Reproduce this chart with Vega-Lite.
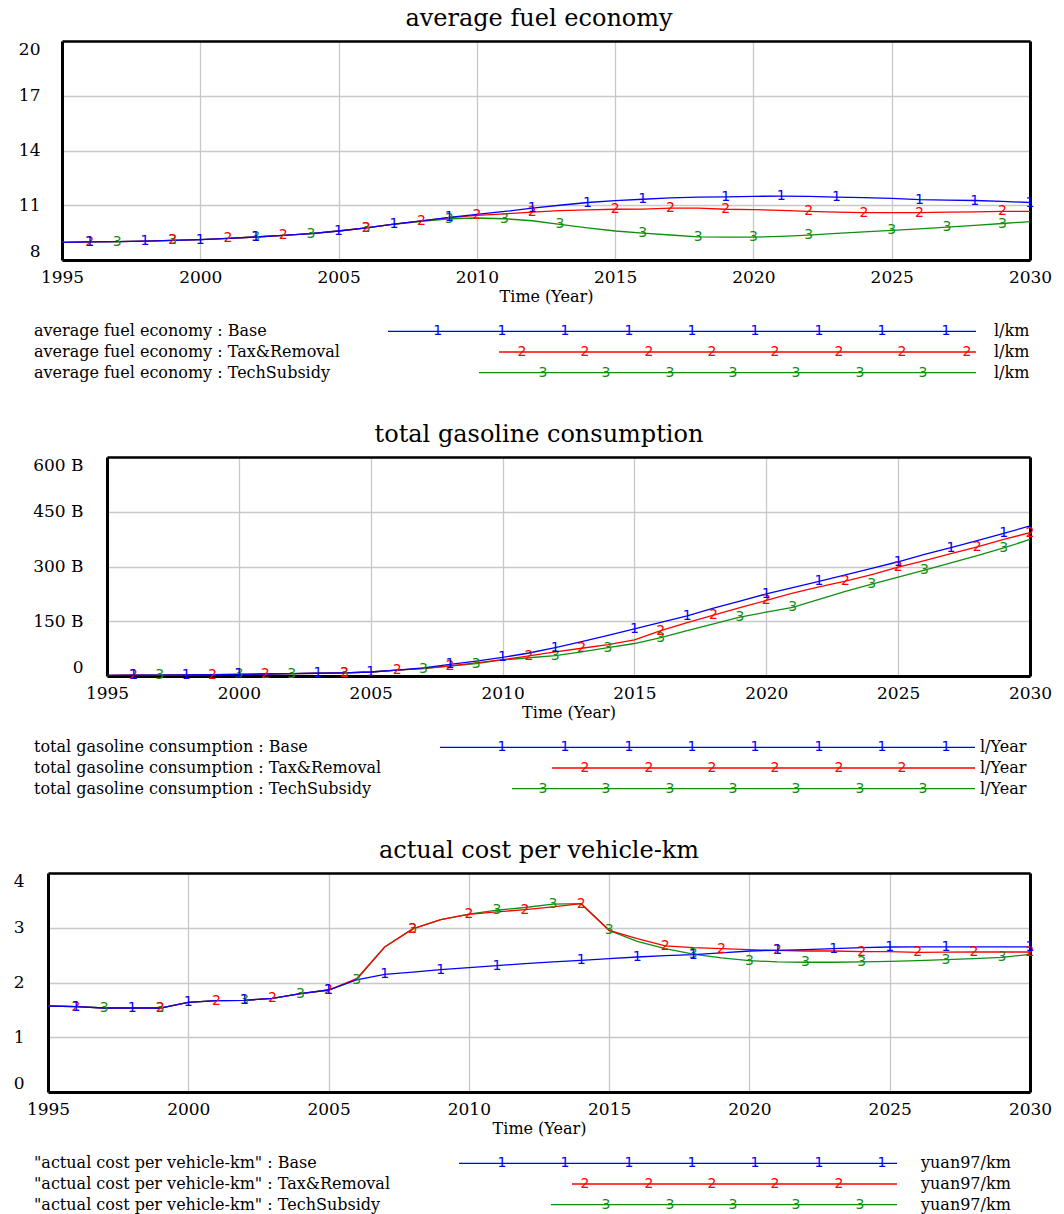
{
  "$schema": "https://vega.github.io/schema/vega-lite/v6.json",
  "background": "white",
  "padding": {"left": 13, "top": 7, "right": 5, "bottom": 5},
  "spacing": 40,
  "config": {
    "view": {"stroke": null},
    "font": "DejaVu Serif",
    "axis": {"labelFont": "DejaVu Serif", "labelFontSize": 17, "labelColor": "black", "titleFont": "DejaVu Serif", "titleFontSize": 16, "titleFontWeight": "normal", "titleColor": "black", "ticks": false, "tickSize": 0, "gridColor": "#c8c8c8", "gridWidth": 1.3, "gridOpacity": 1, "domainColor": "black", "domainWidth": 3},
    "title": {"font": "DejaVu Serif", "fontSize": 24, "fontWeight": "normal", "color": "black", "anchor": "middle", "frame": "group", "baseline": "alphabetic", "offset": 9}
  },
  "datasets": {
    "fuel": [
      {"s":"TechSubsidy","t":1995,"v":8.97},{"s":"TechSubsidy","t":1996,"v":8.99},{"s":"TechSubsidy","t":1997,"v":9.01,"k":"3"},{"s":"TechSubsidy","t":1998,"v":9.03},{"s":"TechSubsidy","t":1999,"v":9.07,"k":"3"},{"s":"TechSubsidy","t":2000,"v":9.12},{"s":"TechSubsidy","t":2001,"v":9.19},{"s":"TechSubsidy","t":2002,"v":9.26,"k":"3"},{"s":"TechSubsidy","t":2003,"v":9.35},{"s":"TechSubsidy","t":2004,"v":9.45,"k":"3"},{"s":"TechSubsidy","t":2005,"v":9.59},{"s":"TechSubsidy","t":2006,"v":9.76,"k":"3"},{"s":"TechSubsidy","t":2007,"v":9.96},{"s":"TechSubsidy","t":2008,"v":10.12},{"s":"TechSubsidy","t":2009,"v":10.26,"k":"3"},{"s":"TechSubsidy","t":2010,"v":10.30},{"s":"TechSubsidy","t":2011,"v":10.26,"k":"3"},{"s":"TechSubsidy","t":2012,"v":10.15},{"s":"TechSubsidy","t":2013,"v":9.95,"k":"3"},{"s":"TechSubsidy","t":2014,"v":9.76},{"s":"TechSubsidy","t":2015,"v":9.59},{"s":"TechSubsidy","t":2016,"v":9.47,"k":"3"},{"s":"TechSubsidy","t":2017,"v":9.37},{"s":"TechSubsidy","t":2018,"v":9.27,"k":"3"},{"s":"TechSubsidy","t":2019,"v":9.25},{"s":"TechSubsidy","t":2020,"v":9.25,"k":"3"},{"s":"TechSubsidy","t":2021,"v":9.29},{"s":"TechSubsidy","t":2022,"v":9.36,"k":"3"},{"s":"TechSubsidy","t":2023,"v":9.46},{"s":"TechSubsidy","t":2024,"v":9.54},{"s":"TechSubsidy","t":2025,"v":9.62,"k":"3"},{"s":"TechSubsidy","t":2026,"v":9.70},{"s":"TechSubsidy","t":2027,"v":9.80,"k":"3"},{"s":"TechSubsidy","t":2028,"v":9.90},{"s":"TechSubsidy","t":2029,"v":10.00,"k":"3"},{"s":"TechSubsidy","t":2030,"v":10.10},
      {"s":"Tax&Removal","t":1995,"v":8.97},{"s":"Tax&Removal","t":1996,"v":8.99,"k":"2"},{"s":"Tax&Removal","t":1997,"v":9.01},{"s":"Tax&Removal","t":1998,"v":9.03},{"s":"Tax&Removal","t":1999,"v":9.07,"k":"2"},{"s":"Tax&Removal","t":2000,"v":9.12},{"s":"Tax&Removal","t":2001,"v":9.19,"k":"2"},{"s":"Tax&Removal","t":2002,"v":9.26},{"s":"Tax&Removal","t":2003,"v":9.35,"k":"2"},{"s":"Tax&Removal","t":2004,"v":9.45},{"s":"Tax&Removal","t":2005,"v":9.59},{"s":"Tax&Removal","t":2006,"v":9.76,"k":"2"},{"s":"Tax&Removal","t":2007,"v":9.96},{"s":"Tax&Removal","t":2008,"v":10.14,"k":"2"},{"s":"Tax&Removal","t":2009,"v":10.32},{"s":"Tax&Removal","t":2010,"v":10.45,"k":"2"},{"s":"Tax&Removal","t":2011,"v":10.53},{"s":"Tax&Removal","t":2012,"v":10.62,"k":"2"},{"s":"Tax&Removal","t":2013,"v":10.70},{"s":"Tax&Removal","t":2014,"v":10.75},{"s":"Tax&Removal","t":2015,"v":10.78,"k":"2"},{"s":"Tax&Removal","t":2016,"v":10.79},{"s":"Tax&Removal","t":2017,"v":10.84,"k":"2"},{"s":"Tax&Removal","t":2018,"v":10.84},{"s":"Tax&Removal","t":2019,"v":10.78,"k":"2"},{"s":"Tax&Removal","t":2020,"v":10.76},{"s":"Tax&Removal","t":2021,"v":10.72},{"s":"Tax&Removal","t":2022,"v":10.66,"k":"2"},{"s":"Tax&Removal","t":2023,"v":10.62},{"s":"Tax&Removal","t":2024,"v":10.60,"k":"2"},{"s":"Tax&Removal","t":2025,"v":10.60},{"s":"Tax&Removal","t":2026,"v":10.60,"k":"2"},{"s":"Tax&Removal","t":2027,"v":10.62},{"s":"Tax&Removal","t":2028,"v":10.64},{"s":"Tax&Removal","t":2029,"v":10.66,"k":"2"},{"s":"Tax&Removal","t":2030,"v":10.66},
      {"s":"Base","t":1995,"v":8.97},{"s":"Base","t":1996,"v":8.99,"k":"1"},{"s":"Base","t":1997,"v":9.01},{"s":"Base","t":1998,"v":9.03,"k":"1"},{"s":"Base","t":1999,"v":9.07},{"s":"Base","t":2000,"v":9.12,"k":"1"},{"s":"Base","t":2001,"v":9.19},{"s":"Base","t":2002,"v":9.26,"k":"1"},{"s":"Base","t":2003,"v":9.35},{"s":"Base","t":2004,"v":9.45},{"s":"Base","t":2005,"v":9.59,"k":"1"},{"s":"Base","t":2006,"v":9.76},{"s":"Base","t":2007,"v":9.96,"k":"1"},{"s":"Base","t":2008,"v":10.14},{"s":"Base","t":2009,"v":10.34,"k":"1"},{"s":"Base","t":2010,"v":10.50},{"s":"Base","t":2011,"v":10.66},{"s":"Base","t":2012,"v":10.84,"k":"1"},{"s":"Base","t":2013,"v":11.00},{"s":"Base","t":2014,"v":11.15,"k":"1"},{"s":"Base","t":2015,"v":11.25},{"s":"Base","t":2016,"v":11.33,"k":"1"},{"s":"Base","t":2017,"v":11.40},{"s":"Base","t":2018,"v":11.44},{"s":"Base","t":2019,"v":11.46,"k":"1"},{"s":"Base","t":2020,"v":11.49},{"s":"Base","t":2021,"v":11.50,"k":"1"},{"s":"Base","t":2022,"v":11.49},{"s":"Base","t":2023,"v":11.45,"k":"1"},{"s":"Base","t":2024,"v":11.42},{"s":"Base","t":2025,"v":11.38},{"s":"Base","t":2026,"v":11.31,"k":"1"},{"s":"Base","t":2027,"v":11.28},{"s":"Base","t":2028,"v":11.26,"k":"1"},{"s":"Base","t":2029,"v":11.21},{"s":"Base","t":2030,"v":11.15,"k":"1"}
    ],
    "gas": [
      {"s":"TechSubsidy","t":1995,"v":1.5},{"s":"TechSubsidy","t":1996,"v":2},{"s":"TechSubsidy","t":1997,"v":2.5,"k":"3"},{"s":"TechSubsidy","t":1998,"v":3},{"s":"TechSubsidy","t":1999,"v":3.5},{"s":"TechSubsidy","t":2000,"v":4.5,"k":"3"},{"s":"TechSubsidy","t":2001,"v":5.5},{"s":"TechSubsidy","t":2002,"v":6.5,"k":"3"},{"s":"TechSubsidy","t":2003,"v":7.5},{"s":"TechSubsidy","t":2004,"v":8.5,"k":"3"},{"s":"TechSubsidy","t":2005,"v":11},{"s":"TechSubsidy","t":2006,"v":16},{"s":"TechSubsidy","t":2007,"v":20,"k":"3"},{"s":"TechSubsidy","t":2008,"v":27},{"s":"TechSubsidy","t":2009,"v":34,"k":"3"},{"s":"TechSubsidy","t":2010,"v":44},{"s":"TechSubsidy","t":2011,"v":50},{"s":"TechSubsidy","t":2012,"v":56,"k":"3"},{"s":"TechSubsidy","t":2013,"v":66},{"s":"TechSubsidy","t":2014,"v":78,"k":"3"},{"s":"TechSubsidy","t":2015,"v":89},{"s":"TechSubsidy","t":2016,"v":105,"k":"3"},{"s":"TechSubsidy","t":2017,"v":124},{"s":"TechSubsidy","t":2018,"v":143},{"s":"TechSubsidy","t":2019,"v":161,"k":"3"},{"s":"TechSubsidy","t":2020,"v":175},{"s":"TechSubsidy","t":2021,"v":188,"k":"3"},{"s":"TechSubsidy","t":2022,"v":210},{"s":"TechSubsidy","t":2023,"v":232},{"s":"TechSubsidy","t":2024,"v":252,"k":"3"},{"s":"TechSubsidy","t":2025,"v":271},{"s":"TechSubsidy","t":2026,"v":290,"k":"3"},{"s":"TechSubsidy","t":2027,"v":310},{"s":"TechSubsidy","t":2028,"v":330},{"s":"TechSubsidy","t":2029,"v":351,"k":"3"},{"s":"TechSubsidy","t":2030,"v":374},
      {"s":"Tax&Removal","t":1995,"v":1.5},{"s":"Tax&Removal","t":1996,"v":2,"k":"2"},{"s":"Tax&Removal","t":1997,"v":2.5},{"s":"Tax&Removal","t":1998,"v":3},{"s":"Tax&Removal","t":1999,"v":3.5,"k":"2"},{"s":"Tax&Removal","t":2000,"v":4.5},{"s":"Tax&Removal","t":2001,"v":5.5,"k":"2"},{"s":"Tax&Removal","t":2002,"v":6.5},{"s":"Tax&Removal","t":2003,"v":7.5},{"s":"Tax&Removal","t":2004,"v":8.5,"k":"2"},{"s":"Tax&Removal","t":2005,"v":11},{"s":"Tax&Removal","t":2006,"v":16,"k":"2"},{"s":"Tax&Removal","t":2007,"v":21},{"s":"Tax&Removal","t":2008,"v":28,"k":"2"},{"s":"Tax&Removal","t":2009,"v":36},{"s":"Tax&Removal","t":2010,"v":45},{"s":"Tax&Removal","t":2011,"v":55,"k":"2"},{"s":"Tax&Removal","t":2012,"v":66},{"s":"Tax&Removal","t":2013,"v":76,"k":"2"},{"s":"Tax&Removal","t":2014,"v":86},{"s":"Tax&Removal","t":2015,"v":99},{"s":"Tax&Removal","t":2016,"v":124,"k":"2"},{"s":"Tax&Removal","t":2017,"v":146},{"s":"Tax&Removal","t":2018,"v":167,"k":"2"},{"s":"Tax&Removal","t":2019,"v":187},{"s":"Tax&Removal","t":2020,"v":207,"k":"2"},{"s":"Tax&Removal","t":2021,"v":227},{"s":"Tax&Removal","t":2022,"v":244},{"s":"Tax&Removal","t":2023,"v":260,"k":"2"},{"s":"Tax&Removal","t":2024,"v":278},{"s":"Tax&Removal","t":2025,"v":298,"k":"2"},{"s":"Tax&Removal","t":2026,"v":316},{"s":"Tax&Removal","t":2027,"v":335},{"s":"Tax&Removal","t":2028,"v":354,"k":"2"},{"s":"Tax&Removal","t":2029,"v":374},{"s":"Tax&Removal","t":2030,"v":393,"k":"2"},
      {"s":"Base","t":1995,"v":1.5},{"s":"Base","t":1996,"v":2,"k":"1"},{"s":"Base","t":1997,"v":2.5},{"s":"Base","t":1998,"v":3,"k":"1"},{"s":"Base","t":1999,"v":3.5},{"s":"Base","t":2000,"v":4.5,"k":"1"},{"s":"Base","t":2001,"v":5.5},{"s":"Base","t":2002,"v":6.5},{"s":"Base","t":2003,"v":7.5,"k":"1"},{"s":"Base","t":2004,"v":8.5},{"s":"Base","t":2005,"v":11,"k":"1"},{"s":"Base","t":2006,"v":16},{"s":"Base","t":2007,"v":22},{"s":"Base","t":2008,"v":32,"k":"1"},{"s":"Base","t":2009,"v":41},{"s":"Base","t":2010,"v":51,"k":"1"},{"s":"Base","t":2011,"v":63},{"s":"Base","t":2012,"v":78,"k":"1"},{"s":"Base","t":2013,"v":94},{"s":"Base","t":2014,"v":111},{"s":"Base","t":2015,"v":129,"k":"1"},{"s":"Base","t":2016,"v":147},{"s":"Base","t":2017,"v":165,"k":"1"},{"s":"Base","t":2018,"v":186},{"s":"Base","t":2019,"v":205},{"s":"Base","t":2020,"v":225,"k":"1"},{"s":"Base","t":2021,"v":242},{"s":"Base","t":2022,"v":259,"k":"1"},{"s":"Base","t":2023,"v":277},{"s":"Base","t":2024,"v":295},{"s":"Base","t":2025,"v":313,"k":"1"},{"s":"Base","t":2026,"v":333},{"s":"Base","t":2027,"v":352,"k":"1"},{"s":"Base","t":2028,"v":371},{"s":"Base","t":2029,"v":391,"k":"1"},{"s":"Base","t":2030,"v":411}
    ],
    "cost": [
      {"s":"TechSubsidy","t":1995,"v":1.571},{"s":"TechSubsidy","t":1996,"v":1.559},{"s":"TechSubsidy","t":1997,"v":1.534,"k":"3"},{"s":"TechSubsidy","t":1998,"v":1.534},{"s":"TechSubsidy","t":1999,"v":1.534,"k":"3"},{"s":"TechSubsidy","t":2000,"v":1.638},{"s":"TechSubsidy","t":2001,"v":1.668},{"s":"TechSubsidy","t":2002,"v":1.674,"k":"3"},{"s":"TechSubsidy","t":2003,"v":1.711},{"s":"TechSubsidy","t":2004,"v":1.796,"k":"3"},{"s":"TechSubsidy","t":2005,"v":1.863},{"s":"TechSubsidy","t":2006,"v":2.05,"k":"3"},{"s":"TechSubsidy","t":2007,"v":2.648},{"s":"TechSubsidy","t":2008,"v":2.98,"k":"3"},{"s":"TechSubsidy","t":2009,"v":3.148},{"s":"TechSubsidy","t":2010,"v":3.25},{"s":"TechSubsidy","t":2011,"v":3.32,"k":"3"},{"s":"TechSubsidy","t":2012,"v":3.37},{"s":"TechSubsidy","t":2013,"v":3.43,"k":"3"},{"s":"TechSubsidy","t":2014,"v":3.44},{"s":"TechSubsidy","t":2015,"v":2.953,"k":"3"},{"s":"TechSubsidy","t":2016,"v":2.75},{"s":"TechSubsidy","t":2017,"v":2.62},{"s":"TechSubsidy","t":2018,"v":2.52,"k":"3"},{"s":"TechSubsidy","t":2019,"v":2.45},{"s":"TechSubsidy","t":2020,"v":2.40,"k":"3"},{"s":"TechSubsidy","t":2021,"v":2.375},{"s":"TechSubsidy","t":2022,"v":2.37,"k":"3"},{"s":"TechSubsidy","t":2023,"v":2.37},{"s":"TechSubsidy","t":2024,"v":2.375,"k":"3"},{"s":"TechSubsidy","t":2025,"v":2.387},{"s":"TechSubsidy","t":2026,"v":2.40},{"s":"TechSubsidy","t":2027,"v":2.417,"k":"3"},{"s":"TechSubsidy","t":2028,"v":2.435},{"s":"TechSubsidy","t":2029,"v":2.46,"k":"3"},{"s":"TechSubsidy","t":2030,"v":2.514},
      {"s":"Tax&Removal","t":1995,"v":1.571},{"s":"Tax&Removal","t":1996,"v":1.559,"k":"2"},{"s":"Tax&Removal","t":1997,"v":1.534},{"s":"Tax&Removal","t":1998,"v":1.534},{"s":"Tax&Removal","t":1999,"v":1.534,"k":"2"},{"s":"Tax&Removal","t":2000,"v":1.638},{"s":"Tax&Removal","t":2001,"v":1.668,"k":"2"},{"s":"Tax&Removal","t":2002,"v":1.674},{"s":"Tax&Removal","t":2003,"v":1.711,"k":"2"},{"s":"Tax&Removal","t":2004,"v":1.796},{"s":"Tax&Removal","t":2005,"v":1.863,"k":"2"},{"s":"Tax&Removal","t":2006,"v":2.07},{"s":"Tax&Removal","t":2007,"v":2.648},{"s":"Tax&Removal","t":2008,"v":2.98,"k":"2"},{"s":"Tax&Removal","t":2009,"v":3.148},{"s":"Tax&Removal","t":2010,"v":3.245,"k":"2"},{"s":"Tax&Removal","t":2011,"v":3.29},{"s":"Tax&Removal","t":2012,"v":3.33,"k":"2"},{"s":"Tax&Removal","t":2013,"v":3.38},{"s":"Tax&Removal","t":2014,"v":3.44,"k":"2"},{"s":"Tax&Removal","t":2015,"v":2.953},{"s":"Tax&Removal","t":2016,"v":2.80},{"s":"Tax&Removal","t":2017,"v":2.67,"k":"2"},{"s":"Tax&Removal","t":2018,"v":2.636},{"s":"Tax&Removal","t":2019,"v":2.618,"k":"2"},{"s":"Tax&Removal","t":2020,"v":2.60},{"s":"Tax&Removal","t":2021,"v":2.585,"k":"2"},{"s":"Tax&Removal","t":2022,"v":2.575},{"s":"Tax&Removal","t":2023,"v":2.575},{"s":"Tax&Removal","t":2024,"v":2.565,"k":"2"},{"s":"Tax&Removal","t":2025,"v":2.565},{"s":"Tax&Removal","t":2026,"v":2.55,"k":"2"},{"s":"Tax&Removal","t":2027,"v":2.555},{"s":"Tax&Removal","t":2028,"v":2.557,"k":"2"},{"s":"Tax&Removal","t":2029,"v":2.557},{"s":"Tax&Removal","t":2030,"v":2.557,"k":"2"},
      {"s":"Base","t":1995,"v":1.571},{"s":"Base","t":1996,"v":1.559,"k":"1"},{"s":"Base","t":1997,"v":1.534},{"s":"Base","t":1998,"v":1.534,"k":"1"},{"s":"Base","t":1999,"v":1.534},{"s":"Base","t":2000,"v":1.638,"k":"1"},{"s":"Base","t":2001,"v":1.668},{"s":"Base","t":2002,"v":1.674,"k":"1"},{"s":"Base","t":2003,"v":1.711},{"s":"Base","t":2004,"v":1.796},{"s":"Base","t":2005,"v":1.863,"k":"1"},{"s":"Base","t":2006,"v":2.05},{"s":"Base","t":2007,"v":2.149,"k":"1"},{"s":"Base","t":2008,"v":2.19},{"s":"Base","t":2009,"v":2.234,"k":"1"},{"s":"Base","t":2010,"v":2.27},{"s":"Base","t":2011,"v":2.31,"k":"1"},{"s":"Base","t":2012,"v":2.344},{"s":"Base","t":2013,"v":2.375},{"s":"Base","t":2014,"v":2.405,"k":"1"},{"s":"Base","t":2015,"v":2.435},{"s":"Base","t":2016,"v":2.466,"k":"1"},{"s":"Base","t":2017,"v":2.49},{"s":"Base","t":2018,"v":2.508,"k":"1"},{"s":"Base","t":2019,"v":2.54},{"s":"Base","t":2020,"v":2.575},{"s":"Base","t":2021,"v":2.588,"k":"1"},{"s":"Base","t":2022,"v":2.60},{"s":"Base","t":2023,"v":2.618,"k":"1"},{"s":"Base","t":2024,"v":2.636},{"s":"Base","t":2025,"v":2.648,"k":"1"},{"s":"Base","t":2026,"v":2.65},{"s":"Base","t":2027,"v":2.65,"k":"1"},{"s":"Base","t":2028,"v":2.65},{"s":"Base","t":2029,"v":2.65},{"s":"Base","t":2030,"v":2.65,"k":"1"}
    ],
    "leg": [
      {"p":1,"s":"Base","label":"average fuel economy : Base","unit":"l/km","tx":34,"a":388,"b":976,"ux":994},
      {"p":1,"s":"Tax&Removal","label":"average fuel economy : Tax&Removal","unit":"l/km","tx":34,"a":499,"b":976,"ux":994},
      {"p":1,"s":"TechSubsidy","label":"average fuel economy : TechSubsidy","unit":"l/km","tx":34,"a":479,"b":976,"ux":994},
      {"p":2,"s":"Base","label":"total gasoline consumption : Base","unit":"l/Year","tx":34,"a":440,"b":975,"ux":980},
      {"p":2,"s":"Tax&Removal","label":"total gasoline consumption : Tax&Removal","unit":"l/Year","tx":34,"a":552,"b":975,"ux":980},
      {"p":2,"s":"TechSubsidy","label":"total gasoline consumption : TechSubsidy","unit":"l/Year","tx":34,"a":512,"b":975,"ux":980},
      {"p":3,"s":"Base","label":"\"actual cost per vehicle-km\" : Base","unit":"yuan97/km","tx":34,"a":459,"b":897,"ux":921},
      {"p":3,"s":"Tax&Removal","label":"\"actual cost per vehicle-km\" : Tax&Removal","unit":"yuan97/km","tx":34,"a":572,"b":897,"ux":921},
      {"p":3,"s":"TechSubsidy","label":"\"actual cost per vehicle-km\" : TechSubsidy","unit":"yuan97/km","tx":34,"a":551,"b":897,"ux":921}
    ],
    "legm": [
      {"p":1,"s":"Base","n":"1","x":437.6},{"p":1,"s":"Base","n":"1","x":502},{"p":1,"s":"Base","n":"1","x":565},{"p":1,"s":"Base","n":"1","x":629},{"p":1,"s":"Base","n":"1","x":692},{"p":1,"s":"Base","n":"1","x":755},{"p":1,"s":"Base","n":"1","x":819},{"p":1,"s":"Base","n":"1","x":882},{"p":1,"s":"Base","n":"1","x":946},
      {"p":1,"s":"Tax&Removal","n":"2","x":522},{"p":1,"s":"Tax&Removal","n":"2","x":585},{"p":1,"s":"Tax&Removal","n":"2","x":649},{"p":1,"s":"Tax&Removal","n":"2","x":712},{"p":1,"s":"Tax&Removal","n":"2","x":775},{"p":1,"s":"Tax&Removal","n":"2","x":839},{"p":1,"s":"Tax&Removal","n":"2","x":902},{"p":1,"s":"Tax&Removal","n":"2","x":967},
      {"p":1,"s":"TechSubsidy","n":"3","x":543},{"p":1,"s":"TechSubsidy","n":"3","x":606},{"p":1,"s":"TechSubsidy","n":"3","x":670},{"p":1,"s":"TechSubsidy","n":"3","x":733},{"p":1,"s":"TechSubsidy","n":"3","x":796},{"p":1,"s":"TechSubsidy","n":"3","x":860},{"p":1,"s":"TechSubsidy","n":"3","x":923},
      {"p":2,"s":"Base","n":"1","x":502},{"p":2,"s":"Base","n":"1","x":565},{"p":2,"s":"Base","n":"1","x":629},{"p":2,"s":"Base","n":"1","x":692},{"p":2,"s":"Base","n":"1","x":755},{"p":2,"s":"Base","n":"1","x":819},{"p":2,"s":"Base","n":"1","x":882},{"p":2,"s":"Base","n":"1","x":946},
      {"p":2,"s":"Tax&Removal","n":"2","x":585},{"p":2,"s":"Tax&Removal","n":"2","x":649},{"p":2,"s":"Tax&Removal","n":"2","x":712},{"p":2,"s":"Tax&Removal","n":"2","x":775},{"p":2,"s":"Tax&Removal","n":"2","x":839},{"p":2,"s":"Tax&Removal","n":"2","x":902},
      {"p":2,"s":"TechSubsidy","n":"3","x":543},{"p":2,"s":"TechSubsidy","n":"3","x":606},{"p":2,"s":"TechSubsidy","n":"3","x":670},{"p":2,"s":"TechSubsidy","n":"3","x":733},{"p":2,"s":"TechSubsidy","n":"3","x":796},{"p":2,"s":"TechSubsidy","n":"3","x":860},{"p":2,"s":"TechSubsidy","n":"3","x":923},
      {"p":3,"s":"Base","n":"1","x":502},{"p":3,"s":"Base","n":"1","x":565},{"p":3,"s":"Base","n":"1","x":629},{"p":3,"s":"Base","n":"1","x":692},{"p":3,"s":"Base","n":"1","x":755},{"p":3,"s":"Base","n":"1","x":819},{"p":3,"s":"Base","n":"1","x":882},
      {"p":3,"s":"Tax&Removal","n":"2","x":585},{"p":3,"s":"Tax&Removal","n":"2","x":649},{"p":3,"s":"Tax&Removal","n":"2","x":712},{"p":3,"s":"Tax&Removal","n":"2","x":775},{"p":3,"s":"Tax&Removal","n":"2","x":839},
      {"p":3,"s":"TechSubsidy","n":"3","x":606},{"p":3,"s":"TechSubsidy","n":"3","x":670},{"p":3,"s":"TechSubsidy","n":"3","x":733},{"p":3,"s":"TechSubsidy","n":"3","x":796},{"p":3,"s":"TechSubsidy","n":"3","x":860}
    ]
  },
  "vconcat": [
    {
      "spacing": 17,
      "vconcat": [
        {
          "width": 982, "height": 219,
          "title": "average fuel economy",
          "data": {"name": "fuel"},
          "layer": [
            {
              "mark": {"type": "line", "strokeWidth": 1.3},
              "encoding": {
                "x": {"field": "t", "type": "quantitative", "scale": {"domain": [1995, 2030], "rangeMin": 14, "nice": false, "zero": false},
                      "axis": {"orient": "bottom", "values": [1995,2000,2005,2010,2015,2020,2025,2030], "format": "d", "grid": true, "labelFlush": false, "labelOverlap": false, "labelPadding": 9, "title": "Time (Year)", "titlePadding": 3}},
                "y": {"field": "v", "type": "quantitative", "scale": {"domain": [8, 20], "nice": false, "zero": false},
                      "axis": {"orient": "left", "values": [8,11,14,17,20], "grid": true, "labelFlush": true, "labelPadding": 22, "offset": -14, "title": null}},
                "color": {"field": "s", "type": "nominal", "scale": {"domain": ["Base","Tax&Removal","TechSubsidy"], "range": ["#0000ff","#ff0000","#0f8f0f"]}, "legend": null}
              }
            },
            {
              "transform": [{"filter": "isValid(datum.k)"}],
              "mark": {"type": "text", "font": "DejaVu Sans", "fontSize": 14, "baseline": "middle", "align": "center"},
              "encoding": {
                "x": {"field": "t", "type": "quantitative", "axis": {"orient": "top", "labels": false, "grid": false, "title": null, "domainWidth": 2.5}},
                "y": {"field": "v", "type": "quantitative", "axis": {"orient": "right", "labels": false, "grid": false, "title": null}},
                "text": {"field": "k"},
                "color": {"field": "s", "type": "nominal", "legend": null}
              }
            }
          ],
          "resolve": {"axis": {"x": "independent", "y": "independent"}}
        },
        {
          "width": 982, "height": 62,
          "layer": [
            {"data": {"name": "leg"}, "transform": [{"filter": "datum.p == 1"}], "mark": {"type": "rule", "strokeWidth": 1.3},
             "encoding": {"x": {"field": "a", "type": "quantitative", "scale": {"domain": [48, 1030], "nice": false, "zero": false}, "axis": null}, "x2": {"field": "b"},
                          "y": {"field": "s", "type": "nominal", "scale": {"type": "point", "domain": ["Base","Tax&Removal","TechSubsidy"], "padding": 0.5}, "axis": null},
                          "color": {"field": "s", "type": "nominal", "legend": null}}},
            {"data": {"name": "legm"}, "transform": [{"filter": "datum.p == 1"}], "mark": {"type": "text", "font": "DejaVu Sans", "fontSize": 14, "baseline": "middle", "align": "center"},
             "encoding": {"x": {"field": "x", "type": "quantitative", "scale": {"domain": [48, 1030], "nice": false, "zero": false}, "axis": null},
                          "y": {"field": "s", "type": "nominal", "scale": {"type": "point", "domain": ["Base","Tax&Removal","TechSubsidy"], "padding": 0.5}, "axis": null},
                          "text": {"field": "n"}, "color": {"field": "s", "type": "nominal", "legend": null}}},
            {"data": {"name": "leg"}, "transform": [{"filter": "datum.p == 1"}], "mark": {"type": "text", "font": "DejaVu Serif", "fontSize": 16, "baseline": "middle", "align": "left", "color": "black"},
             "encoding": {"x": {"field": "tx", "type": "quantitative", "scale": {"domain": [48, 1030], "nice": false, "zero": false}, "axis": null},
                          "y": {"field": "s", "type": "nominal", "scale": {"type": "point", "domain": ["Base","Tax&Removal","TechSubsidy"], "padding": 0.5}, "axis": null},
                          "text": {"field": "label"}}},
            {"data": {"name": "leg"}, "transform": [{"filter": "datum.p == 1"}], "mark": {"type": "text", "font": "DejaVu Serif", "fontSize": 16, "baseline": "middle", "align": "left", "color": "black"},
             "encoding": {"x": {"field": "ux", "type": "quantitative", "scale": {"domain": [48, 1030], "nice": false, "zero": false}, "axis": null},
                          "y": {"field": "s", "type": "nominal", "scale": {"type": "point", "domain": ["Base","Tax&Removal","TechSubsidy"], "padding": 0.5}, "axis": null},
                          "text": {"field": "unit"}}}
          ]
        }
      ]
    },
    {
      "spacing": 17,
      "vconcat": [
        {
          "width": 982, "height": 219,
          "title": "total gasoline consumption",
          "data": {"name": "gas"},
          "layer": [
            {
              "mark": {"type": "line", "strokeWidth": 1.3},
              "encoding": {
                "x": {"field": "t", "type": "quantitative", "scale": {"domain": [1995, 2030], "rangeMin": 59, "nice": false, "zero": false},
                      "axis": {"orient": "bottom", "values": [1995,2000,2005,2010,2015,2020,2025,2030], "format": "d", "grid": true, "labelFlush": false, "labelOverlap": false, "labelPadding": 9, "title": "Time (Year)", "titlePadding": 3}},
                "y": {"field": "v", "type": "quantitative", "scale": {"domain": [0, 600], "nice": false, "zero": false},
                      "axis": {"orient": "left", "values": [0,150,300,450,600], "labelExpr": "datum.value == 0 ? '0' : datum.value + ' B'", "grid": true, "labelFlush": true, "labelPadding": 24, "offset": -59, "title": null}},
                "color": {"field": "s", "type": "nominal", "scale": {"domain": ["Base","Tax&Removal","TechSubsidy"], "range": ["#0000ff","#ff0000","#0f8f0f"]}, "legend": null}
              }
            },
            {
              "transform": [{"filter": "isValid(datum.k)"}],
              "mark": {"type": "text", "font": "DejaVu Sans", "fontSize": 14, "baseline": "middle", "align": "center"},
              "encoding": {
                "x": {"field": "t", "type": "quantitative", "axis": {"orient": "top", "labels": false, "grid": false, "title": null, "domainWidth": 2.5}},
                "y": {"field": "v", "type": "quantitative", "axis": {"orient": "right", "labels": false, "grid": false, "title": null}},
                "text": {"field": "k"},
                "color": {"field": "s", "type": "nominal", "legend": null}
              }
            }
          ],
          "resolve": {"axis": {"x": "independent", "y": "independent"}}
        },
        {
          "width": 982, "height": 62,
          "layer": [
            {"data": {"name": "leg"}, "transform": [{"filter": "datum.p == 2"}], "mark": {"type": "rule", "strokeWidth": 1.3},
             "encoding": {"x": {"field": "a", "type": "quantitative", "scale": {"domain": [48, 1030], "nice": false, "zero": false}, "axis": null}, "x2": {"field": "b"},
                          "y": {"field": "s", "type": "nominal", "scale": {"type": "point", "domain": ["Base","Tax&Removal","TechSubsidy"], "padding": 0.5}, "axis": null},
                          "color": {"field": "s", "type": "nominal", "legend": null}}},
            {"data": {"name": "legm"}, "transform": [{"filter": "datum.p == 2"}], "mark": {"type": "text", "font": "DejaVu Sans", "fontSize": 14, "baseline": "middle", "align": "center"},
             "encoding": {"x": {"field": "x", "type": "quantitative", "scale": {"domain": [48, 1030], "nice": false, "zero": false}, "axis": null},
                          "y": {"field": "s", "type": "nominal", "scale": {"type": "point", "domain": ["Base","Tax&Removal","TechSubsidy"], "padding": 0.5}, "axis": null},
                          "text": {"field": "n"}, "color": {"field": "s", "type": "nominal", "legend": null}}},
            {"data": {"name": "leg"}, "transform": [{"filter": "datum.p == 2"}], "mark": {"type": "text", "font": "DejaVu Serif", "fontSize": 16, "baseline": "middle", "align": "left", "color": "black"},
             "encoding": {"x": {"field": "tx", "type": "quantitative", "scale": {"domain": [48, 1030], "nice": false, "zero": false}, "axis": null},
                          "y": {"field": "s", "type": "nominal", "scale": {"type": "point", "domain": ["Base","Tax&Removal","TechSubsidy"], "padding": 0.5}, "axis": null},
                          "text": {"field": "label"}}},
            {"data": {"name": "leg"}, "transform": [{"filter": "datum.p == 2"}], "mark": {"type": "text", "font": "DejaVu Serif", "fontSize": 16, "baseline": "middle", "align": "left", "color": "black"},
             "encoding": {"x": {"field": "ux", "type": "quantitative", "scale": {"domain": [48, 1030], "nice": false, "zero": false}, "axis": null},
                          "y": {"field": "s", "type": "nominal", "scale": {"type": "point", "domain": ["Base","Tax&Removal","TechSubsidy"], "padding": 0.5}, "axis": null},
                          "text": {"field": "unit"}}}
          ]
        }
      ]
    },
    {
      "spacing": 17,
      "vconcat": [
        {
          "width": 982, "height": 219,
          "title": "actual cost per vehicle-km",
          "data": {"name": "cost"},
          "layer": [
            {
              "mark": {"type": "line", "strokeWidth": 1.3},
              "encoding": {
                "x": {"field": "t", "type": "quantitative", "scale": {"domain": [1995, 2030], "nice": false, "zero": false},
                      "axis": {"orient": "bottom", "values": [1995,2000,2005,2010,2015,2020,2025,2030], "format": "d", "grid": true, "labelFlush": false, "labelOverlap": false, "labelPadding": 9, "title": "Time (Year)", "titlePadding": 3}},
                "y": {"field": "v", "type": "quantitative", "scale": {"domain": [0, 4], "nice": false, "zero": false},
                      "axis": {"orient": "left", "values": [0,1,2,3,4], "grid": true, "labelFlush": true, "labelPadding": 24, "title": null}},
                "color": {"field": "s", "type": "nominal", "scale": {"domain": ["Base","Tax&Removal","TechSubsidy"], "range": ["#0000ff","#ff0000","#0f8f0f"]}, "legend": null}
              }
            },
            {
              "transform": [{"filter": "isValid(datum.k)"}],
              "mark": {"type": "text", "font": "DejaVu Sans", "fontSize": 14, "baseline": "middle", "align": "center"},
              "encoding": {
                "x": {"field": "t", "type": "quantitative", "axis": {"orient": "top", "labels": false, "grid": false, "title": null, "domainWidth": 2.5}},
                "y": {"field": "v", "type": "quantitative", "axis": {"orient": "right", "labels": false, "grid": false, "title": null}},
                "text": {"field": "k"},
                "color": {"field": "s", "type": "nominal", "legend": null}
              }
            }
          ],
          "resolve": {"axis": {"x": "independent", "y": "independent"}}
        },
        {
          "width": 982, "height": 62,
          "layer": [
            {"data": {"name": "leg"}, "transform": [{"filter": "datum.p == 3"}], "mark": {"type": "rule", "strokeWidth": 1.3},
             "encoding": {"x": {"field": "a", "type": "quantitative", "scale": {"domain": [48, 1030], "nice": false, "zero": false}, "axis": null}, "x2": {"field": "b"},
                          "y": {"field": "s", "type": "nominal", "scale": {"type": "point", "domain": ["Base","Tax&Removal","TechSubsidy"], "padding": 0.5}, "axis": null},
                          "color": {"field": "s", "type": "nominal", "legend": null}}},
            {"data": {"name": "legm"}, "transform": [{"filter": "datum.p == 3"}], "mark": {"type": "text", "font": "DejaVu Sans", "fontSize": 14, "baseline": "middle", "align": "center"},
             "encoding": {"x": {"field": "x", "type": "quantitative", "scale": {"domain": [48, 1030], "nice": false, "zero": false}, "axis": null},
                          "y": {"field": "s", "type": "nominal", "scale": {"type": "point", "domain": ["Base","Tax&Removal","TechSubsidy"], "padding": 0.5}, "axis": null},
                          "text": {"field": "n"}, "color": {"field": "s", "type": "nominal", "legend": null}}},
            {"data": {"name": "leg"}, "transform": [{"filter": "datum.p == 3"}], "mark": {"type": "text", "font": "DejaVu Serif", "fontSize": 16, "baseline": "middle", "align": "left", "color": "black"},
             "encoding": {"x": {"field": "tx", "type": "quantitative", "scale": {"domain": [48, 1030], "nice": false, "zero": false}, "axis": null},
                          "y": {"field": "s", "type": "nominal", "scale": {"type": "point", "domain": ["Base","Tax&Removal","TechSubsidy"], "padding": 0.5}, "axis": null},
                          "text": {"field": "label"}}},
            {"data": {"name": "leg"}, "transform": [{"filter": "datum.p == 3"}], "mark": {"type": "text", "font": "DejaVu Serif", "fontSize": 16, "baseline": "middle", "align": "left", "color": "black"},
             "encoding": {"x": {"field": "ux", "type": "quantitative", "scale": {"domain": [48, 1030], "nice": false, "zero": false}, "axis": null},
                          "y": {"field": "s", "type": "nominal", "scale": {"type": "point", "domain": ["Base","Tax&Removal","TechSubsidy"], "padding": 0.5}, "axis": null},
                          "text": {"field": "unit"}}}
          ]
        }
      ]
    }
  ]
}
